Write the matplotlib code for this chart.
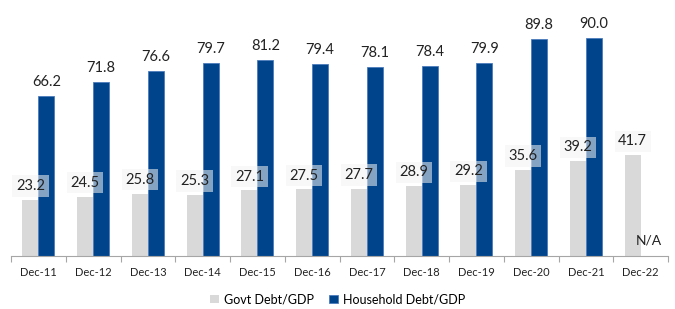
import numpy as np
import matplotlib.pyplot as plt

plt.rcParams['font.family'] = ['Lato', 'DejaVu Sans']

years = ["Dec-11", "Dec-12", "Dec-13", "Dec-14", "Dec-15", "Dec-16",
         "Dec-17", "Dec-18", "Dec-19", "Dec-20", "Dec-21", "Dec-22"]
govt_debt = [23.2, 24.5, 25.8, 25.3, 27.1, 27.5, 27.7, 28.9, 29.2, 35.6, 39.2, 41.7]
household_debt = [66.2, 71.8, 76.6, 79.7, 81.2, 79.4, 78.1, 78.4, 79.9, 89.8, 90.0, np.nan]

GREY = "#d9d9d9"
BLUE = "#00448c"

fig = plt.figure(figsize=(6.75, 3.09), dpi=100)
ax = fig.add_axes([11 / 675, 1 - 256 / 309, 657 / 675, 256 / 309])

x = np.arange(len(years))
width = 0.29

govt_bars = ax.bar(x - width / 2, govt_debt, width, color=GREY, label="Govt Debt/GDP")
hh_bars = ax.bar(x + width / 2, household_debt, width, color=BLUE,
                 edgecolor="#4a7bbd", linewidth=0.6, label="Household Debt/GDP")

for rect, val in zip(hh_bars, household_debt):
    if np.isnan(val):
        ax.text(rect.get_x() + rect.get_width() / 2, 6.6, "N/A",
                ha="center", va="center", fontsize=10, color="#222222")
        continue
    ax.annotate(f"{val:.1f}", xy=(rect.get_x() + rect.get_width() / 2, val),
                xytext=(0, 10), textcoords="offset points",
                ha="center", va="center", fontsize=10.5, color="#222222")

for rect, val in zip(govt_bars, govt_debt):
    ax.annotate(f"{val:.1f}", xy=(rect.get_x() + rect.get_width() / 2, val),
                xytext=(0, 10), textcoords="offset points",
                ha="center", va="center", fontsize=10.5, color="#222222", zorder=5,
                bbox=dict(boxstyle="square,pad=0.25", facecolor="#f4f4f4",
                          edgecolor="none", alpha=0.55))

ax.set_xlim(-0.5, len(years) - 0.5)
ax.set_ylim(0, 105.8)
ax.set_xticks(x)
ax.set_xticklabels(years, fontsize=8, color="#222222")
ax.set_xticks(np.arange(-0.5, len(years)), minor=True)
ax.tick_params(axis="x", which="major", length=0, pad=8)
ax.tick_params(axis="x", which="minor", length=4, color="#a6a6a6", width=0.8)
ax.set_yticks([])
for side in ["top", "right", "left"]:
    ax.spines[side].set_visible(False)
ax.spines["bottom"].set_color("#a6a6a6")
ax.spines["bottom"].set_linewidth(0.8)

fig.legend(loc="lower center", bbox_to_anchor=(0.5, -0.025), ncol=2, frameon=False,
           fontsize=9, handlelength=0.7, handleheight=0.7, handletextpad=0.4,
           columnspacing=1.2)

fig.savefig("out.png", dpi=100)
